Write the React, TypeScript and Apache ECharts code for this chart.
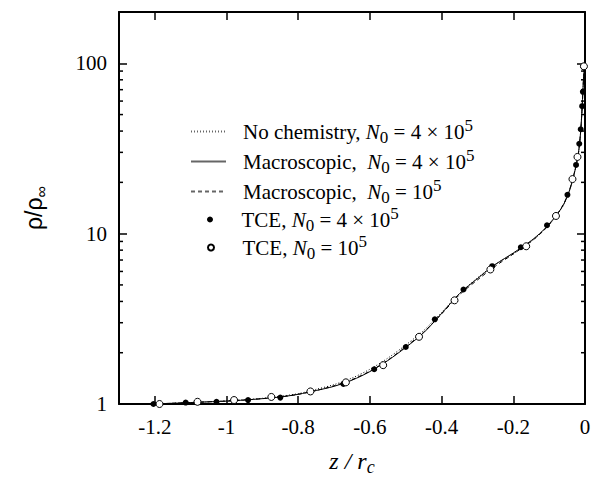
import React, { useEffect, useRef } from "react";
import * as echarts from "echarts";

// Density profiles along the stagnation line
const xNoChem = [-1.21, -1.15, -1.1, -1.05, -1.0, -0.95, -0.9, -0.85, -0.8, -0.75, -0.7, -0.65, -0.6, -0.55, -0.5, -0.45, -0.4, -0.35, -0.3, -0.25, -0.2, -0.15, -0.12, -0.1, -0.08, -0.06, -0.045, -0.035, -0.025, -0.018, -0.012, -0.008, -0.006, -0.004, -0.002];
const rhoNoChem = [1.0, 1.01, 1.02, 1.03, 1.045, 1.06, 1.08, 1.11, 1.15, 1.22, 1.3, 1.42, 1.6, 1.86, 2.22, 2.7, 3.45, 4.45, 5.5, 6.6, 7.6, 9.0, 10.2, 11.3, 12.7, 14.7, 17.4, 20.4, 25, 30, 40, 55, 68, 82, 97];

const xMacro4 = [-1.21, -1.15, -1.1, -1.05, -1.0, -0.95, -0.9, -0.85, -0.8, -0.75, -0.7, -0.65, -0.6, -0.55, -0.5, -0.45, -0.4, -0.35, -0.3, -0.25, -0.2, -0.15, -0.12, -0.1, -0.08, -0.06, -0.045, -0.035, -0.025, -0.018, -0.012, -0.008, -0.006, -0.004, -0.002];
const rhoMacro4 = [1.0, 1.01, 1.02, 1.03, 1.04, 1.055, 1.075, 1.1, 1.14, 1.2, 1.27, 1.38, 1.55, 1.8, 2.15, 2.62, 3.4, 4.45, 5.45, 6.6, 7.7, 9.1, 10.3, 11.4, 12.8, 14.8, 17.5, 20.5, 25, 30, 40, 55, 68, 82, 97];

const xMacro1 = [-1.21, -1.15, -1.1, -1.05, -1.0, -0.95, -0.9, -0.85, -0.8, -0.75, -0.7, -0.65, -0.6, -0.55, -0.5, -0.45, -0.4, -0.35, -0.3, -0.25, -0.2, -0.15, -0.12, -0.1, -0.08, -0.06, -0.045, -0.035, -0.025, -0.018, -0.012, -0.008, -0.006, -0.004, -0.002];
const rhoMacro1 = [1.0, 1.01, 1.02, 1.03, 1.04, 1.055, 1.075, 1.1, 1.14, 1.2, 1.28, 1.39, 1.56, 1.81, 2.17, 2.64, 3.38, 4.38, 5.35, 6.45, 7.6, 9.0, 10.2, 11.3, 12.8, 14.9, 17.6, 20.6, 25.2, 30, 40, 55, 68, 82, 97];

const xTce4 = [-1.204, -1.114, -1.028, -0.94, -0.85, -0.766, -0.674, -0.588, -0.5, -0.419, -0.339, -0.259, -0.179, -0.106, -0.049, -0.025, -0.016, -0.012, -0.008, -0.006, -0.004];
const rhoTce4 = [1.0, 1.02, 1.03, 1.055, 1.09, 1.175, 1.31, 1.6, 2.16, 3.14, 4.7, 6.44, 8.32, 11.2, 16.9, 25.3, 33.7, 41, 56, 68, 95];

const xTce1 = [-1.187, -1.081, -0.979, -0.875, -0.766, -0.667, -0.563, -0.463, -0.364, -0.264, -0.164, -0.081, -0.035, -0.021, -0.003];
const rhoTce1 = [1.0, 1.03, 1.055, 1.1, 1.185, 1.34, 1.69, 2.48, 4.06, 6.16, 8.43, 12.7, 20.9, 28.2, 96];

// Minor ticks of the logarithmic density axis
const minorTicks = [2, 3, 4, 5, 6, 7, 8, 9, 20, 30, 40, 50, 60, 70, 80, 90];

const seriesNames = [
  "No chemistry, N0 = 4e5",
  "Macroscopic, N0 = 4e5",
  "Macroscopic, N0 = 1e5",
  "TCE, N0 = 4e5",
  "TCE, N0 = 1e5",
];

const legendText: Record<string, string> = {
  "No chemistry, N0 = 4e5": "No chemistry, {i|N}{sub|0} = 4 × 10{sup|5}",
  "Macroscopic, N0 = 4e5": "Macroscopic,  {i|N}{sub|0} = 4 × 10{sup|5}",
  "Macroscopic, N0 = 1e5": "Macroscopic,  {i|N}{sub|0} = 10{sup|5}",
  "TCE, N0 = 4e5": "TCE, {i|N}{sub|0} = 4 × 10{sup|5}",
  "TCE, N0 = 1e5": "TCE, {i|N}{sub|0} = 10{sup|5}",
};

// Vertical position (top) of each legend row
const legendTops = [117, 147, 177, 205, 233];

const zip = (xs: number[], ys: number[]) => xs.map((x, i) => [x, ys[i]]);

const SERIF = "'Liberation Serif', 'Times New Roman', serif";
const SANS = "'Liberation Sans', Arial, sans-serif";

// Sub- and superscripts are shifted by uneven token padding around a centred box
const legendTextStyle = (padLeft: number) => ({
  fontFamily: SERIF,
  fontSize: 21,
  color: "#000",
  lineHeight: 24,
  padding: [0, 0, 0, padLeft],
  rich: {
    i: { fontFamily: SERIF, fontSize: 21, fontStyle: "italic", color: "#000", lineHeight: 24 },
    sub: { fontFamily: SERIF, fontSize: 17, color: "#000", verticalAlign: "middle", lineHeight: 24, padding: [11, 0, 0, 0] },
    sup: { fontFamily: SERIF, fontSize: 17, color: "#000", verticalAlign: "middle", lineHeight: 24, padding: [0, 0, 12, 0] },
  },
});

export default function App() {
  const ref = useRef<HTMLDivElement>(null);

  useEffect(() => {
    if (!ref.current) return;
    const chart = echarts.init(ref.current, undefined, { renderer: "svg" });

    const frameLine = { show: true, onZero: false, lineStyle: { color: "#000", width: 2 } };
    const majorTick = { show: true, inside: true, length: 8, lineStyle: { color: "#000", width: 1.5 } };

    const legends = seriesNames.map((name, i) => {
      const isLine = i < 3;
      return {
        orient: "vertical",
        left: isLine ? 190 : 207,
        top: legendTops[i],
        padding: 0,
        itemWidth: 35,
        itemHeight: 6,
        data: [
          isLine
            ? {
                name,
                itemStyle: { color: "rgba(0,0,0,0)", borderColor: "rgba(0,0,0,0)", borderWidth: 0 },
                lineStyle: { color: "#666" },
              }
            : { name },
        ],
        formatter: (n: string) => legendText[n] ?? n,
        textStyle: legendTextStyle(isLine ? 12 : 9),
      };
    });

    chart.setOption({
      animation: false,
      backgroundColor: "#fff",
      grid: { left: 119, right: 10, top: 12, bottom: 77, containLabel: false },
      legend: legends,
      xAxis: [
        {
          type: "value",
          min: -1.3,
          max: 0,
          splitNumber: 6,
          position: "bottom",
          axisLine: frameLine,
          axisTick: majorTick,
          splitLine: { show: false },
          axisLabel: {
            showMinLabel: false,
            margin: 12,
            fontFamily: SERIF,
            fontSize: 21,
            color: "#000",
          },
          name: "{t|z / r}{sub|c}",
          nameLocation: "middle",
          nameGap: 42,
          nameTextStyle: {
            rich: {
              t: { fontFamily: SERIF, fontSize: 24, fontStyle: "italic", color: "#000", lineHeight: 30 },
              sub: { fontFamily: SERIF, fontSize: 18, fontStyle: "italic", color: "#000", verticalAlign: "middle", lineHeight: 30, padding: [12, 0, 0, 0] },
            },
          },
        },
        {
          type: "value",
          min: -1.3,
          max: 0,
          splitNumber: 6,
          position: "top",
          axisLine: frameLine,
          axisTick: majorTick,
          splitLine: { show: false },
          axisLabel: { show: false },
        },
      ],
      yAxis: [
        {
          type: "log",
          logBase: 10,
          min: 1,
          max: 200,
          position: "left",
          axisLine: frameLine,
          axisTick: majorTick,
          splitLine: { show: false },
          minorTick: { show: false },
          axisLabel: {
            showMaxLabel: false,
            margin: 12,
            fontFamily: SERIF,
            fontSize: 21,
            color: "#000",
          },
          name: "ρ/ρ{sub|∞}",
          nameLocation: "middle",
          nameGap: 70,
          nameTextStyle: {
            fontFamily: SANS,
            fontSize: 23,
            color: "#000",
            lineHeight: 30,
            rich: {
              sub: { fontFamily: SANS, fontSize: 16, color: "#000", verticalAlign: "bottom", lineHeight: 30 },
            },
          },
        },
        {
          type: "log",
          logBase: 10,
          min: 1,
          max: 200,
          position: "right",
          axisLine: frameLine,
          axisTick: majorTick,
          splitLine: { show: false },
          axisLabel: { show: false },
        },
      ],
      series: [
        {
          name: seriesNames[0],
          type: "line",
          data: zip(xNoChem, rhoNoChem),
          showSymbol: false,
          symbol: "none",
          smooth: 0.3,
          lineStyle: { color: "#000", width: 1, type: [1, 2] },
          itemStyle: { color: "#000" },
          z: 3,
        },
        {
          name: seriesNames[1],
          type: "line",
          data: zip(xMacro4, rhoMacro4),
          showSymbol: false,
          symbol: "none",
          smooth: 0.3,
          lineStyle: { color: "#000", width: 1, type: "solid" },
          itemStyle: { color: "#000" },
          z: 3,
        },
        {
          name: seriesNames[2],
          type: "line",
          data: zip(xMacro1, rhoMacro1),
          showSymbol: false,
          symbol: "none",
          smooth: 0.3,
          lineStyle: { color: "#000", width: 1, type: [4, 3] },
          itemStyle: { color: "#000" },
          z: 3,
        },
        {
          name: seriesNames[3],
          type: "scatter",
          data: zip(xTce4, rhoTce4),
          symbol: "circle",
          symbolSize: 6,
          itemStyle: { color: "#000", opacity: 1 },
          z: 4,
        },
        {
          name: seriesNames[4],
          type: "scatter",
          data: zip(xTce1, rhoTce1),
          symbol: "circle",
          symbolSize: 7,
          itemStyle: { color: "#fff", borderColor: "#000", borderWidth: 1, opacity: 1 },
          z: 4,
        },
        {
          name: "minor ticks",
          type: "custom",
          data: minorTicks.map((v) => [-1.3, v]),
          silent: true,
          z: 5,
          renderItem: (_params: any, api: any) => {
            const v = api.value(1);
            const pL = api.coord([-1.3, v]);
            const pR = api.coord([0, v]);
            const style = { stroke: "#000", lineWidth: 1.5 };
            return {
              type: "group",
              children: [
                { type: "line", shape: { x1: pL[0], y1: pL[1], x2: pL[0] + 4, y2: pL[1] }, style },
                { type: "line", shape: { x1: pR[0], y1: pR[1], x2: pR[0] - 4, y2: pR[1] }, style },
              ],
            };
          },
        },
      ],
    });

    return () => chart.dispose();
  }, []);

  return (
    <div
      ref={ref}
      style={{ position: "absolute", left: 0, top: 0, width: 595, height: 481 }}
    />
  );
}
